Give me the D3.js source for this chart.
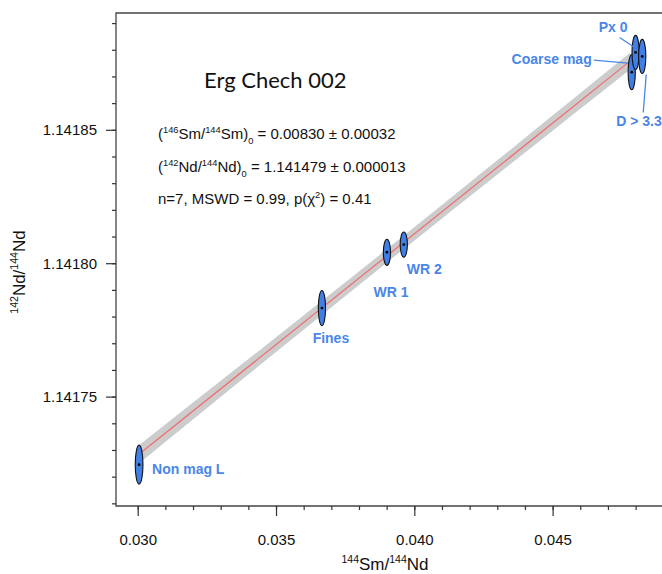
<!DOCTYPE html>
<html><head><meta charset="utf-8">
<script src="https://cdn.jsdelivr.net/npm/d3@7"></script>
<style>body{margin:0;background:#fff}svg{display:block}</style>
</head><body><svg id="c" width="662" height="574"></svg>
<script>
// ---- data ----
const samples = ["Non mag L","Fines","WR 1","WR 2","Coarse mag","Px 0","D > 3.3"];
const smNd   = [0.03005, 0.03666, 0.03901, 0.03962, 0.04786, 0.04800, 0.04824];
const ndNd   = [1.1417245, 1.1417832, 1.1418041, 1.1418070, 1.1418716, 1.1418790, 1.1418775];
const errX   = [0.00014, 0.00013, 0.00013, 0.00013, 0.00013, 0.00013, 0.00013];
const errY   = [0.0000073, 0.0000066, 0.0000049, 0.0000047, 0.0000066, 0.0000064, 0.0000064];
const xTickLabels = ["0.030","0.035","0.040","0.045"];
const yTickLabels = ["1.14175","1.14180","1.14185"];
const slope = 0.00830, intercept = 1.141479;
const bandX    = [0.0300, 0.0345, 0.0390, 0.0435, 0.0478];
const bandHalf = [0.0000034, 0.0000028, 0.0000025, 0.0000027, 0.0000031];

// ---- layout ----
const L = 116, T = 13, B = 506, R = 700;
const x = d3.scaleLinear().domain([0.029215, 0.029215 + (R - L) / 27660]).range([L, R]);
const y = d3.scaleLinear().domain([1.141709, 1.141709 + (B - T) / 2668000]).range([B, T]);

const svg = d3.select("#c");
const blue = "#4a86e8", fill = "#3f7fe6";
const font = "'Liberation Sans', Arial, sans-serif";

// band
const fit = v => intercept + slope * v;
const band = bandX.map((v, i) => ({v, h: bandHalf[i]}));
svg.append("path")
  .attr("d", d3.area().x(d => x(d.v)).y0(d => y(fit(d.v) - d.h)).y1(d => y(fit(d.v) + d.h)).curve(d3.curveNatural)(band))
  .attr("fill", "#cccccc");
svg.append("line")
  .attr("x1", x(bandX[0])).attr("y1", y(fit(bandX[0])))
  .attr("x2", x(bandX[bandX.length-1])).attr("y2", y(fit(bandX[bandX.length-1])))
  .attr("stroke", "#f26b6b").attr("stroke-width", 1.2);

// frame
svg.append("path").attr("d", `M${R},${T}H${L}V${B}H${R}`).attr("fill", "none")
  .attr("stroke", "#444").attr("stroke-width", 1.3);

// axes
const xMinor = d3.range(0.030, 0.0495, 0.001);
const xMajor = xTickLabels.map(Number);
const ax = svg.append("g").attr("transform", `translate(0,${B})`);
ax.call(d3.axisBottom(x).tickValues(xMinor).tickSize(4).tickFormat(""));
ax.call(g => g.append("g").call(d3.axisBottom(x).tickValues(xMajor).tickSize(10).tickFormat((d, i) => xTickLabels[i])));
ax.selectAll(".domain").remove();
ax.selectAll("line").attr("stroke", "#333").attr("stroke-width", 1.2);
ax.selectAll("text").attr("font-family", font).attr("font-size", 15).attr("fill", "#111").attr("dy", "1.75em");

const yMinor = d3.range(1.14171, 1.141895, 0.00001);
const yMajor = yTickLabels.map(Number);
const ay = svg.append("g").attr("transform", `translate(${L},0)`);
ay.call(d3.axisLeft(y).tickValues(yMinor).tickSize(4).tickFormat(""));
ay.call(g => g.append("g").call(d3.axisLeft(y).tickValues(yMajor).tickSize(10).tickFormat((d, i) => yTickLabels[i])));
ay.selectAll(".domain").remove();
ay.selectAll("line").attr("stroke", "#333").attr("stroke-width", 1.2);
ay.selectAll("text").attr("font-family", font).attr("font-size", 15).attr("fill", "#111").attr("x", -19);

// rich text helper
function rich(x0, y0, parts, size, opts = {}) {
  const t = svg.append("text").attr("x", x0).attr("y", y0)
    .attr("font-family", font).attr("font-size", size).attr("fill", "#111");
  if (opts.anchor) t.attr("text-anchor", opts.anchor);
  if (opts.rotate) t.attr("transform", `rotate(-90,${x0},${y0})`);
  let shift = 0;
  parts.forEach(([s, m]) => {
    const target = m === "sup" ? -0.42 * size : m === "sub" ? 0.3 * size : 0;
    const ts = t.append("tspan").text(s).attr("dy", target - shift);
    if (m) ts.attr("font-size", size * 0.62);
    shift = target;
  });
  return t;
}

// annotation
svg.append("text").attr("x", 204).attr("y", 88).text("Erg Chech 002")
  .attr("font-family", "Lato, 'Open Sans', sans-serif").attr("font-size", 22).attr("fill", "#111");
rich(158, 139, [["("],["146","sup"],["Sm/"],["144","sup"],["Sm)"],["0","sub"],[" = 0.00830 ± 0.00032"]], 15);
rich(158, 172, [["("],["142","sup"],["Nd/"],["144","sup"],["Nd)"],["0","sub"],[" = 1.141479 ± 0.000013"]], 15);
rich(158, 204, [["n=7, MSWD = 0.99, p(χ"],["2","sup"],[") = 0.41"]], 15);

// axis titles
rich(385, 570, [["144","sup"],["Sm/"],["144","sup"],["Nd"]], 17, {anchor: "middle"});
rich(25, 272, [["142","sup"],["Nd/"],["144","sup"],["Nd"]], 17, {anchor: "middle", rotate: true});

// ellipses
const pts = samples.map((s, i) => ({s, cx: x(smNd[i]), cy: y(ndNd[i]),
  rx: x(smNd[i] + errX[i]) - x(smNd[i]), ry: y(ndNd[i]) - y(ndNd[i] + errY[i])}));
svg.append("g").selectAll("ellipse").data(pts).join("ellipse")
  .attr("cx", d => d.cx).attr("cy", d => d.cy).attr("rx", d => d.rx).attr("ry", d => d.ry)
  .attr("fill", fill).attr("stroke", "#111").attr("stroke-width", 1.1);
svg.append("g").selectAll("circle").data(pts).join("circle")
  .attr("cx", d => d.cx).attr("cy", d => d.cy).attr("r", 1.4).attr("fill", "#000");

// label placement relative to each point
const labelPos = {
  "Non mag L": {dx: 13, dy: 9, a: "start"},
  "Fines": {dx: 9, dy: 35, a: "middle"},
  "WR 1": {dx: 4, dy: 45, a: "middle"},
  "WR 2": {dx: 3, dy: 29, a: "start"},
  "Coarse mag": {dx: -40, dy: -8, a: "end", lead: [-38, -12, -4, -9]},
  "Px 0": {dx: -8, dy: -20, a: "end", lead: [-16, -15, -1, -5]},
  "D > 3.3": {dx: -26, dy: 70, a: "start", lead: [4, 18, 1, 56]}
};
pts.forEach(p => {
  const o = labelPos[p.s];
  if (o.lead) svg.append("line").attr("x1", p.cx + o.lead[0]).attr("y1", p.cy + o.lead[1])
    .attr("x2", p.cx + o.lead[2]).attr("y2", p.cy + o.lead[3]).attr("stroke", blue).attr("stroke-width", 1.3);
  svg.append("text").attr("x", p.cx + o.dx).attr("y", p.cy + o.dy).attr("text-anchor", o.a)
    .attr("font-family", font).attr("font-weight", "bold").attr("font-size", 14).attr("fill", blue).text(p.s);
});
</script></body></html>
